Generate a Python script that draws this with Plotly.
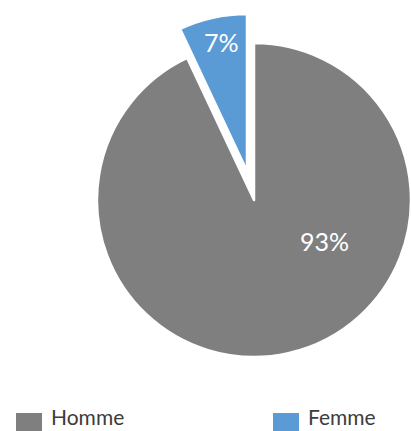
import plotly.graph_objects as go

# Répartition par sexe
labels = ["Homme", "Femme"]
values = [93, 7]
colors = ["#7F7F7F", "#5B9BD5"]

W, H = 411, 431
FONT = "Lato"


def px_x(x):
    return x / W


def px_y(y):
    return 1 - y / H


def dom(cx, cy, r):
    return dict(x=[px_x(cx - r), px_x(cx + r)], y=[px_y(cy + r), px_y(cy - r)])


R = 157
transparent = "rgba(0,0,0,0)"

fig = go.Figure()

# Main pie: the "Homme" share, with the "Femme" slot left empty
fig.add_trace(go.Pie(
    labels=labels, values=values, sort=False, direction="clockwise", rotation=0,
    marker=dict(colors=[colors[0], transparent],
                line=dict(color="white", width=[2.5, 0])),
    textinfo="none", hoverinfo="label+percent", showlegend=False,
    domain=dom(254, 200, R),
))

# Exploded "Femme" slice, offset outward from the centre
fig.add_trace(go.Pie(
    labels=labels, values=values, sort=False, direction="clockwise", rotation=0,
    marker=dict(colors=[transparent, colors[1]],
                line=dict(color="white", width=[0, 2.5])),
    textinfo="none", hoverinfo="label+percent", showlegend=False,
    domain=dom(247, 171, R),
))

total = sum(values)
label_pos = [(324, 241), (221, 42)]
annotations = []
for v, (lx, ly) in zip(values, label_pos):
    annotations.append(dict(
        x=px_x(lx), y=px_y(ly), xref="paper", yref="paper",
        text=f"{round(100 * v / total)}%", showarrow=False,
        font=dict(family=FONT, size=25, color="white"),
        xanchor="center", yanchor="middle",
    ))

# Legend row at the bottom
shapes = []
legend_x = [16, 273]
for name, col, lx in zip(labels, colors, legend_x):
    shapes.append(dict(
        type="rect", xref="paper", yref="paper",
        x0=px_x(lx), x1=px_x(lx + 26), y0=px_y(440), y1=px_y(413),
        fillcolor=col, line=dict(width=0),
    ))
    annotations.append(dict(
        x=px_x(lx + 33), y=0, xref="paper", yref="paper",
        text=name, showarrow=False,
        font=dict(family=FONT, size=21, color="#3C3C3C"),
        xanchor="left", yanchor="bottom",
    ))

fig.update_layout(
    width=W, height=H,
    margin=dict(l=0, r=0, t=0, b=0),
    paper_bgcolor="white", plot_bgcolor="white",
    annotations=annotations, shapes=shapes,
    showlegend=False,
)

fig.write_html("out.html", config={"displayModeBar": False})
